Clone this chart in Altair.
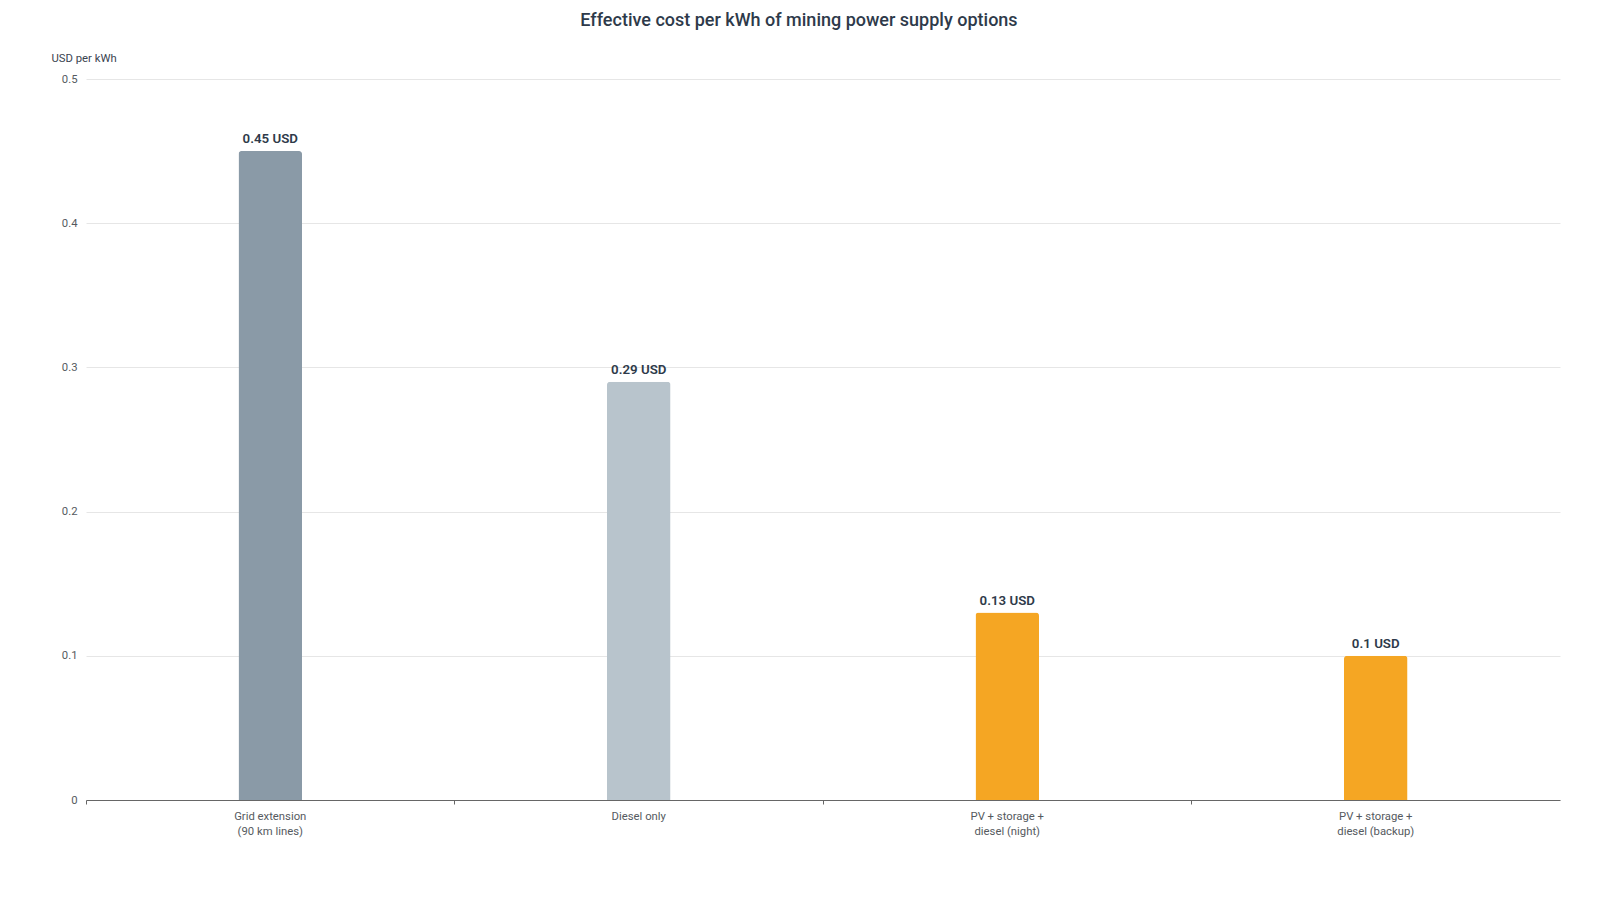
import altair as alt
import pandas as pd

categories = ["Grid extension|(90 km lines)", "Diesel only", "PV + storage +|diesel (night)", "PV + storage +|diesel (backup)"]
values = [0.45, 0.29, 0.13, 0.10]
labels = ["0.45 USD", "0.29 USD", "0.13 USD", "0.1 USD"]
colors = ["#8a9aa7", "#b8c4cc", "#f5a623", "#f5a623"]

df = pd.DataFrame({"cat": categories, "value": values, "label": labels, "color": colors})

FONT = "Roboto"

x = alt.X("cat:N", sort=categories, title=None,
          scale=alt.Scale(paddingInner=0, paddingOuter=0),
          axis=alt.Axis(labelExpr="split(datum.label, '|')", labelAngle=0,
                        labelFontSize=11.3, labelColor="#555a60", labelFont=FONT,
                        labelPadding=6, labelLineHeight=15.5,
                        domainColor="#666666", tickColor="#666666", tickSize=4,
                        bandPosition=0, grid=False))
y = alt.Y("value:Q", title="USD per kWh",
          scale=alt.Scale(domain=[0, 0.5], nice=False),
          axis=alt.Axis(values=[0, 0.1, 0.2, 0.3, 0.4, 0.5], format="~g",
                        ticks=False, domain=False, labelPadding=9,
                        labelFontSize=11.3, labelColor="#555a60", labelFont=FONT,
                        gridColor="#e6e6e6",
                        titleAngle=0, titleAlign="left", titleBaseline="bottom",
                        titleX=-35, titleY=-16, titleFontSize=11.3, titleFontWeight="normal",
                        titleColor="#3a4450", titleFont=FONT))

bars = alt.Chart(df).mark_bar(size=63.5, cornerRadiusTopLeft=3, cornerRadiusTopRight=3).encode(
    x=x, y=y, color=alt.Color("color:N", scale=None)
)
text = alt.Chart(df).mark_text(dy=-12, fontSize=13.3, fontWeight=600, color="#2e3a4a", font=FONT).encode(
    x=alt.X("cat:N", sort=categories), y="value:Q", text="label:N"
)

chart = alt.layer(bars, text).properties(
    width=1474, height=721,
    autosize=alt.AutoSizeParams(type="none"),
    padding={"left": 78, "top": 71, "right": 20, "bottom": 80},
    title=alt.TitleParams("Effective cost per kWh of mining power supply options",
                          fontSize=18, fontWeight=500, color="#2e3a4a", font=FONT,
                          anchor="middle", dx=-24, offset=22),
    background="white",
).configure_view(stroke=None)

chart.save("out.html", embed_options={"renderer": "svg", "actions": False})
